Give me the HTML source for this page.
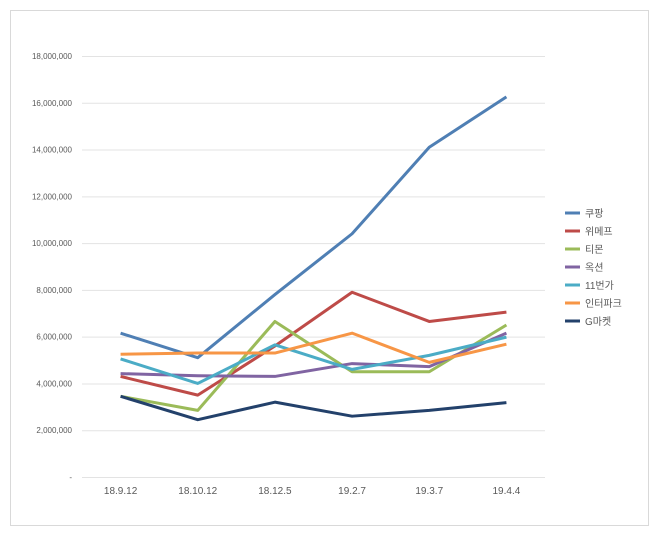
<!DOCTYPE html>
<html><head><meta charset="utf-8"><style>
body{margin:0;background:#fff;}
svg text{font-family:"Liberation Sans","Noto Sans CJK KR",sans-serif;}
</style></head><body>
<svg id="chart" width="660" height="537">
<rect x="10.5" y="10.5" width="638" height="515" fill="#fff" stroke="#d9d9d9"/>
<g id="grid"></g><g id="lines"></g><g id="legend"></g>
</svg>
<script>
const categories=["18.9.12","18.10.12","18.12.5","19.2.7","19.3.7","19.4.4"];
const yTicks=[0,2000000,4000000,6000000,8000000,10000000,12000000,14000000,16000000,18000000];
const seriesNames=["쿠팡","위메프","티몬","옥션","11번가","인터파크","G마켓"];
const coupang=[6150000,5100000,7800000,10400000,14100000,16250000];
const wemakeprice=[4300000,3500000,5600000,7900000,6650000,7050000];
const tmon=[3450000,2850000,6650000,4500000,4500000,6500000];
const auction=[4420000,4330000,4300000,4850000,4720000,6150000];
const st11=[5050000,4000000,5650000,4600000,5200000,5980000];
const interpark=[5250000,5300000,5300000,6150000,4900000,5680000];
const gmarket=[3450000,2450000,3200000,2600000,2850000,3180000];
const seriesValues=[coupang,wemakeprice,tmon,auction,st11,interpark,gmarket];
const colors=["#4f7fb4","#be4b48","#9bbb59","#8064a2","#4bacc6","#f79646","#23416b"];
const ns="http://www.w3.org/2000/svg";
const x0=82,x1=545,y0=477,y1=56,yMax=18000000;
const bw=(x1-x0)/categories.length;
function xs(i){return x0+bw*(i+0.5);}
function ys(v){return y0-(v/yMax)*(y0-y1);}
function mk(t,a,p){const e=document.createElementNS(ns,t);for(const k in a)e.setAttribute(k,a[k]);p.appendChild(e);return e;}
const grid=document.getElementById('grid');
yTicks.forEach(v=>{
 const l=mk('line',{x1:x0,x2:x1,y1:ys(v)+0.5,y2:ys(v)+0.5,stroke:'#e3e3e3'},grid);
 
 
 const t=mk('text',{x:72,y:ys(v)+3,'text-anchor':'end','font-size':'8',fill:'#595959'},grid);
 t.textContent=v===0?'-':v.toLocaleString('en-US');
 
 
});
categories.forEach((c,i)=>{
 const t=mk('text',{x:xs(i),y:494,'text-anchor':'middle','font-size':'10',fill:'#595959'},grid);
 t.textContent=c;
 
 
});
const lines=document.getElementById('lines');
seriesValues.forEach((vals,s)=>{
 const p=mk('polyline',{points:vals.map((v,i)=>xs(i)+','+ys(v)).join(' '),fill:'none',stroke:colors[s],'stroke-width':'3','stroke-linejoin':'round'},lines);
 
 
});
const lg=document.getElementById('legend');
seriesNames.forEach((n,s)=>{
 const y=213+s*18;
 const g=mk('g',{},lg);
 
 
 mk('line',{x1:565,x2:580,y1:y,y2:y,stroke:colors[s],'stroke-width':'3'},g);
 const t=mk('text',{x:585,y:y+4,'font-size':'10',fill:'#595959'},g);
 t.textContent=n;
});
</script>
</body></html>
